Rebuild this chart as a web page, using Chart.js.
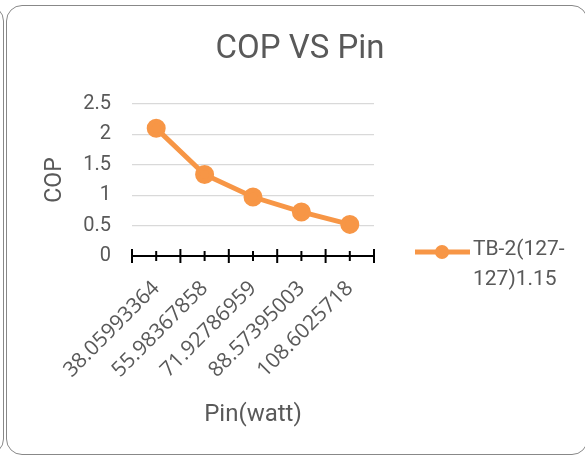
<!DOCTYPE html>
<html>
<head>
<meta charset="utf-8">
<script src="https://cdn.jsdelivr.net/npm/chart.js@4.4.1/dist/chart.umd.min.js"></script>
<style>
  html, body { margin: 0; padding: 0; background: #fff; overflow: hidden; width: 585px; height: 457px; }
  #grafica { position: absolute; left: 0; top: 0; }
  .marco { position: absolute; box-sizing: border-box; border: 1.5px solid #888; border-radius: 16px; pointer-events: none; }
</style>
</head>
<body>
<canvas id="grafica" width="600" height="457"></canvas>
<div class="marco" style="left:-200px; top:5px; width:204px; height:450px;"></div>
<div class="marco" style="left:6px; top:5px; width:582px; height:450px;"></div>
<script>
// datos
const pinLabels = ['38.05993364', '55.98367858', '71.92786959', '88.57395003', '108.6025718'];
const copValues = [2.10, 1.34, 0.97, 0.725, 0.52];
const serieLineas = ['TB-2(127-', '127)1.15'];
const titulo = 'COP VS Pin';
const yTicksMax = 2.5;
const yTicksStep = 0.5;

const naranja = '#F79646';
const gris = '#595959';

// titulo centrado en todo el lienzo
const tituloPlugin = {
    id: 'tituloPlugin',
    afterDraw(chart) {
        const ctx = chart.ctx;
        ctx.save();
        ctx.fillStyle = gris;
        ctx.font = '33px Roboto';
        ctx.textAlign = 'center';
        ctx.textBaseline = 'middle';
        ctx.fillText(titulo, chart.width / 2, chart.chartArea.top - 54);
        ctx.restore();
    }
};

// marcas del eje x que cruzan la linea (entre categorias y en cada categoria)
const marcasEjeX = {
    id: 'marcasEjeX',
    afterDatasetsDraw(chart) {
        const x = chart.scales.x;
        const ctx = chart.ctx;
        const yAxis = chart.scales.y.getPixelForValue(0);
        const n = pinLabels.length;
        const half = (x.getPixelForValue(1) - x.getPixelForValue(0)) / 2;
        ctx.save();
        ctx.strokeStyle = '#000';
        ctx.lineWidth = 2;
        for (let i = 0; i <= n; i++) {
            const xb = x.getPixelForValue(0) - half + i * 2 * half;
            ctx.beginPath();
            ctx.moveTo(xb, yAxis - 7);
            ctx.lineTo(xb, yAxis + 7);
            ctx.stroke();
        }
        for (let i = 0; i < n; i++) {
            const xc = x.getPixelForValue(i);
            ctx.beginPath();
            ctx.moveTo(xc, yAxis - 5);
            ctx.lineTo(xc, yAxis + 5);
            ctx.stroke();
        }
        ctx.restore();
    }
};

// leyenda en dos lineas a la derecha
const leyenda = {
    id: 'leyenda',
    afterDraw(chart) {
        const ctx = chart.ctx;
        const area = chart.chartArea;
        const x0 = area.right + 41;
        const y0 = area.bottom - 4;
        ctx.save();
        ctx.strokeStyle = naranja;
        ctx.lineWidth = 5;
        ctx.beginPath();
        ctx.moveTo(x0, y0);
        ctx.lineTo(x0 + 55, y0);
        ctx.stroke();
        ctx.fillStyle = naranja;
        ctx.beginPath();
        ctx.arc(x0 + 27, y0, 7, 0, Math.PI * 2);
        ctx.fill();
        ctx.fillStyle = gris;
        ctx.font = '21px Roboto';
        ctx.textAlign = 'left';
        ctx.textBaseline = 'middle';
        serieLineas.forEach((t, i) => ctx.fillText(t, x0 + 58, y0 - 2 + i * 30));
        ctx.restore();
    }
};

new Chart(document.getElementById('grafica'), {
    type: 'line',
    data: {
        labels: pinLabels,
        datasets: [{
            label: serieLineas.join(''),
            data: copValues,
            borderColor: naranja,
            backgroundColor: naranja,
            borderWidth: 5,
            pointRadius: 7,
            pointHoverRadius: 7,
            fill: false,
            tension: 0
        }]
    },
    plugins: [tituloPlugin, marcasEjeX, leyenda],
    options: {
        responsive: false,
        animation: false,
        devicePixelRatio: 1,
        layout: { padding: { left: 37, right: 226, top: 104, bottom: 0 } },
        plugins: {
            legend: { display: false },
            tooltip: { enabled: false },
            title: { display: false }
        },
        scales: {
            x: {
                type: 'category',
                offset: true,
                grid: { display: false, drawTicks: false },
                border: { display: true, color: '#000', width: 2 },
                ticks: {
                    color: gris,
                    font: { family: 'Open Sans', size: 21 },
                    minRotation: 45,
                    maxRotation: 45,
                    padding: 20,
                    autoSkip: false
                },
                title: {
                    display: true,
                    text: 'Pin(watt)',
                    color: gris,
                    font: { family: 'Roboto', size: 24 },
                    padding: { top: 28, bottom: 28 }
                },
                afterFit(scale) { scale.height = 201; }
            },
            y: {
                min: 0,
                max: yTicksMax,
                grid: { color: '#d9d9d9', lineWidth: 1.3, drawTicks: false },
                border: { display: false },
                ticks: {
                    stepSize: yTicksStep,
                    color: gris,
                    font: { family: 'Roboto', size: 20 },
                    padding: 21,
                    callback: v => String(Math.round(v * 10) / 10)
                },
                title: {
                    display: true,
                    text: 'COP',
                    color: gris,
                    font: { family: 'Roboto', size: 23 },
                    padding: { top: 4, bottom: 14 }
                },
                afterFit(scale) { scale.width = 95; }
            }
        }
    }
});
</script>
</body>
</html>
